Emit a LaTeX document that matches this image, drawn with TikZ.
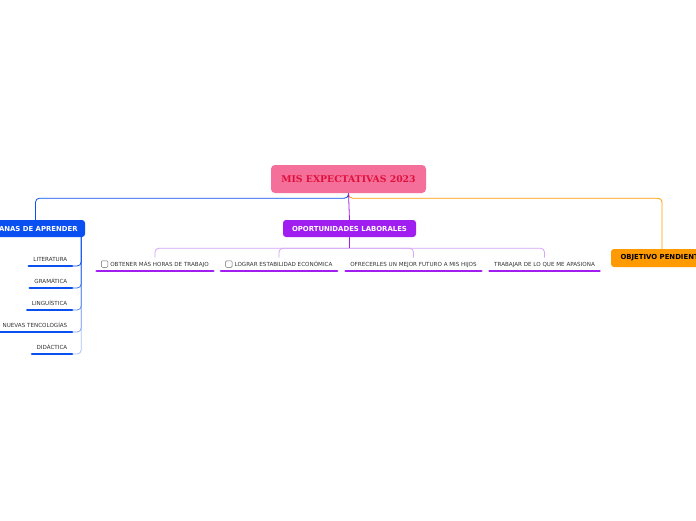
\documentclass[tikz,border=0pt]{standalone}
\usepackage{fontspec}
\setmainfont{DejaVu Sans}
\newfontfamily\rootfont{DejaVu Serif}
\definecolor{rootfill}{HTML}{F4709A}
\definecolor{roottext}{HTML}{E0103C}
\definecolor{tblue}{HTML}{0A4FF2}
\definecolor{tpurple}{HTML}{A01EF0}
\definecolor{lpurple}{HTML}{D7A6F7}
\definecolor{torange}{HTML}{FF9A00}
\definecolor{subtext}{HTML}{333333}
\tikzset{
  rootbox/.style={draw=none, fill=rootfill, rounded corners=4pt, minimum width=155pt, minimum height=28pt, text=roottext, font=\rootfont\bfseries\fontsize{9.3}{10}\selectfont, inner sep=0pt},
  topic/.style={draw=none, rounded corners=3pt, minimum height=17pt, inner sep=0pt, font=\bfseries\fontsize{6.9}{8}\selectfont},
  sub/.style={font=\fontsize{5.6}{6}\selectfont, text=subtext, text height=4pt, text depth=0pt, inner ysep=4.5pt, inner xsep=4.5pt},
  ulb/.style={line width=2.6pt, line cap=round, tblue},
  ulp/.style={line width=2.6pt, line cap=round, tpurple},
  conn/.style={line width=0.8pt, rounded corners=4pt},
  chk/.style={draw=gray!80!black, line width=0.5pt, rounded corners=1pt, minimum size=6.5pt, inner sep=0pt}
}
\begin{document}
\begin{tikzpicture}[x=1pt,y=-1pt]
\clip (0,0) rectangle (696,520);
\fill[white] (0,0) rectangle (696,520);

% root and main topics
\node[rootbox] (root) at (348.5,179) {MIS EXPECTATIVAS 2023};
\node[topic, fill=tblue, text=white, minimum width=99pt] (t1) at (35.5,228.5) {GANAS DE APRENDER};
\node[topic, fill=tpurple, text=white, minimum width=133pt] (t2) at (349.5,228.5) {OPORTUNIDADES LABORALES};
\node[topic, fill=torange, text=black, minimum width=102pt, minimum height=18pt] (t3) at (662,258) {OBJETIVO PENDIENTE};

\draw[conn, tblue] (root.south) -- ++(0,5) -| (t1.north);
\draw[conn, torange] (root.south) -- ++(0,5) -| (t3.north);
\draw[conn, tpurple] (root.south) -- (t2.north);

% blue subtopics
\node[sub, anchor=south east] (b1) at (72,266) {LITERATURA};
\node[sub, anchor=south east] (b2) at (72,288) {GRAMÁTICA};
\node[sub, anchor=south east] (b3) at (72,310) {LINGUÍSTICA};
\node[sub, anchor=south east] (b4) at (72,332) {NUEVAS TENCOLOGÍAS};
\node[sub, anchor=south east] (b5) at (72,354) {DIDÁCTICA};
\coordinate (bs) at ([xshift=-4pt]t1.south east);
\draw[conn, tblue!35] (bs) |- (b5.south east);
\draw[conn, tblue!50] (bs) |- (b4.south east);
\draw[conn, tblue!65] (bs) |- (b3.south east);
\draw[conn, tblue!80] (bs) |- (b2.south east);
\draw[conn, tblue] (bs) |- (b1.south east);
\foreach \n in {b1,b2,b3,b4,b5} \draw[ulb] (\n.south west) -- (\n.south east);

% purple subtopics
\node[sub, anchor=south] (p1) at (155,271) {\phantom{\rule{9pt}{1pt}}OBTENER MÁS HORAS DE TRABAJO};
\node[sub, anchor=south] (p2) at (279,271) {\phantom{\rule{9pt}{1pt}}LOGRAR ESTABILIDAD ECONÓMICA};
\node[sub, anchor=south] (p3) at (413.5,271) {OFRECERLES UN MEJOR FUTURO A MIS HIJOS};
\node[sub, anchor=south] (p4) at (544.5,271) {TRABAJAR DE LO QUE ME APASIONA};
\node[chk] (c1) at ([xshift=8pt,yshift=7pt]p1.south west) {};
\node[chk] (c2) at ([xshift=8pt,yshift=7pt]p2.south west) {};
\coordinate (ps) at ([yshift=-11pt]t2.south);
\draw[conn, lpurple] (ps) -| (p1.north);
\draw[conn, lpurple] (ps) -| (p2.north);
\draw[conn, lpurple] (ps) -| (p3.north);
\draw[conn, lpurple] (ps) -| (p4.north);
\draw[conn, tpurple] (t2.south) -- (ps);
\foreach \n in {p1,p2,p3,p4} \draw[ulp] (\n.south west) -- (\n.south east);
\end{tikzpicture}
\end{document}
